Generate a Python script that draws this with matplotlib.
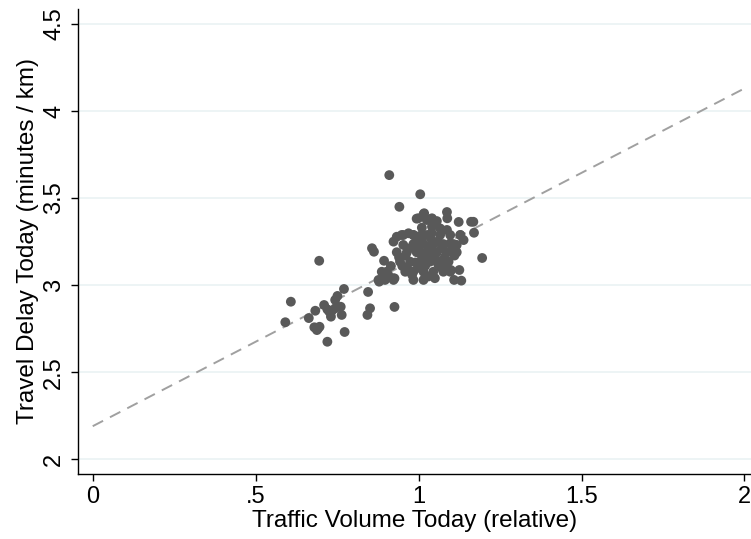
import matplotlib
matplotlib.use('Agg')
import matplotlib.pyplot as plt
import numpy as np

plt.rcParams['font.family'] = ['Liberation Sans', 'DejaVu Sans']

# Dados (volume relativo, atraso em min/km)
traffic = [
    # pontos isolados / borda superior
    0.910, 1.005, 0.941, 0.695, 1.195, 1.168, 1.170, 1.087, 1.123,
    0.994, 1.017, 1.037, 1.056, 0.857, 0.863, 0.894, 0.926,
    1.099, 1.125, 1.109, 1.131,
    # grupo inferior esquerdo
    0.608, 0.591, 0.771, 0.751, 0.744, 0.845, 0.851, 0.843, 0.926,
    0.683, 0.663, 0.710, 0.720, 0.734, 0.744, 0.761, 0.764, 0.731, 0.726,
    0.680, 0.691, 0.696, 0.688, 0.773, 0.720,
    0.879, 0.897, 0.887, 0.907, 0.923,
    # topo do grupo principal
    1.015, 0.999, 1.025, 1.041, 1.088, 1.161, 1.087, 1.066, 1.041,
    0.933, 0.948, 0.969, 0.984, 1.005, 0.923, 0.953, 1.128, 1.138,
    1.117, 1.097,
    # grupo principal, linhas
    0.953, 0.984, 1.026, 1.066, 1.097, 1.128,
    0.984, 1.015, 1.045, 1.076, 1.107,
    0.933, 0.964, 0.994, 1.025, 1.056, 1.087, 1.117,
    0.943, 0.974, 1.005, 1.035, 1.066, 1.092,
    0.902, 0.959, 0.984, 1.015, 1.045, 1.076, 1.097,
    0.877, 0.897, 0.923, 0.984, 1.015,
    # interior do grupo principal
    1.000, 1.030, 1.050, 1.010, 0.990, 1.040, 1.070, 1.020, 1.060,
    0.970, 1.080, 1.000, 1.030, 0.950, 0.960, 1.100, 1.040, 1.010,
    0.980, 1.050, 1.020, 0.990, 1.060, 1.030, 1.010, 1.070, 1.040,
    0.940, 0.965, 1.085, 1.110, 1.055, 0.915, 1.035, 1.075,
]
delay = [
    3.632, 3.522, 3.450, 3.140, 3.156, 3.364, 3.301, 3.420, 3.363,
    3.382, 3.413, 3.378, 3.368, 3.212, 3.192, 3.140, 3.039,
    3.087, 3.087, 3.030, 3.026,
    2.905, 2.787, 2.978, 2.938, 2.915, 2.961, 2.867, 2.829, 2.875,
    2.853, 2.811, 2.886, 2.861, 2.853, 2.867, 2.876, 2.829, 2.819, 2.848,
    2.758, 2.750, 2.761, 2.742, 2.731, 2.675,
    3.020, 3.049, 3.077, 3.058, 3.039,
    3.407, 3.384, 3.374, 3.384, 3.384, 3.364, 3.317, 3.326, 3.336,
    3.278, 3.288, 3.298, 3.288, 3.284, 3.250, 3.231, 3.288, 3.259,
    3.231, 3.240,
    3.288, 3.288, 3.288, 3.288, 3.288, 3.288,
    3.236, 3.236, 3.236, 3.236, 3.236,
    3.189, 3.189, 3.189, 3.189, 3.189, 3.189, 3.189,
    3.135, 3.135, 3.135, 3.135, 3.135, 3.135,
    3.077, 3.077, 3.077, 3.077, 3.077, 3.077, 3.077,
    3.030, 3.030, 3.030, 3.030, 3.030,
    3.200, 3.220, 3.170, 3.150, 3.240, 3.260, 3.210, 3.110, 3.120,
    3.210, 3.160, 3.100, 3.050, 3.110, 3.170, 3.200, 3.300, 3.330,
    3.060, 3.040, 3.180, 3.130, 3.250, 3.160, 3.260, 3.100, 3.210,
    3.160, 3.100, 3.120, 3.170, 3.140, 3.110, 3.180, 3.230,
]

# Reta ajustada (extremos)
fit_x = [0, 2]
fit_y = [2.19, 4.13]

x_ticks = [0, 0.5, 1, 1.5, 2]
x_labels = ['0', '.5', '1', '1.5', '2']
y_ticks = [2, 2.5, 3, 3.5, 4, 4.5]
y_labels = ['2', '2.5', '3', '3.5', '4', '4.5']

fig = plt.figure(figsize=(7.51, 5.39), dpi=100)
ax = fig.add_axes([0.1035, 0.1211, 0.8965, 0.8622])

ax.set_axisbelow(True)
for yt in y_ticks:
    ax.axhline(yt, color='#eaf2f3', linewidth=1.2, zorder=0)

ax.plot(fit_x, fit_y, color='#a0a0a0', linestyle=(0, (6, 4)), linewidth=1.4, zorder=2)
ax.scatter(traffic, delay, s=50, color='#595959', edgecolors='none', zorder=3)

ax.set_xlim(-0.046, 2.02)
ax.set_ylim(1.917, 4.586)
ax.set_xticks(x_ticks)
ax.set_xticklabels(x_labels)
ax.set_yticks(y_ticks)
ax.set_yticklabels(y_labels, rotation=90, va='center')

ax.spines['top'].set_visible(False)
ax.spines['right'].set_visible(False)
for s in ['left', 'bottom']:
    ax.spines[s].set_linewidth(1.0)
ax.tick_params(direction='out', length=5, width=1.0, labelsize=17, pad=4)

ax.set_xlabel('Traffic Volume Today (relative)', fontsize=17.5, labelpad=1)
ax.set_ylabel('Travel Delay Today (minutes / km)', fontsize=17.5, labelpad=3)

fig.savefig('out.png', dpi=100)
